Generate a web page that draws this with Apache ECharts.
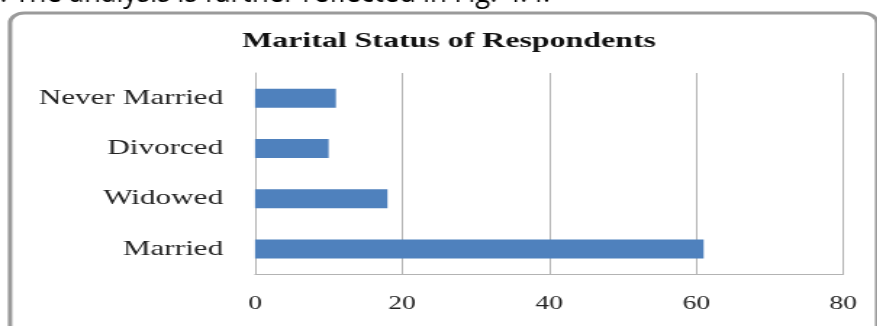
<!DOCTYPE html>
<html>
<head>
<meta charset="utf-8">
<script src="https://cdn.jsdelivr.net/npm/echarts@6/dist/echarts.min.js"></script>
<style>
html,body{margin:0;padding:0;background:#fff;overflow:hidden;}
#c{width:604.8px;height:326px;transform:scaleX(1.45);transform-origin:0 0;}
</style>
</head>
<body>
<div id="c"></div>
<script>
var SX = 1.45;
var categories = ['Married', 'Widowed', 'Divorced', 'Never Married'];
var values = [61, 18, 10, 11];
var xTicks = { min: 0, max: 80, interval: 20 };
var titleText = 'Marital Status of Respondents';
var headerText = '. The analysis is further reflected in Fig. 4.4.';

var chart = echarts.init(document.getElementById('c'));
chart.setOption({
  animation: false,
  backgroundColor: '#ffffff',
  title: {
    text: titleText,
    left: 309.7,
    top: 30.5,
    padding: 0,
    textAlign: 'center',
    textStyle: { fontFamily: 'Liberation Serif', fontWeight: 'bold', fontSize: 22, color: '#111' }
  },
  grid: { left: 175.9, right: 23.4, top: 73, bottom: 52 },
  xAxis: {
    type: 'value',
    min: xTicks.min, max: xTicks.max, interval: xTicks.interval,
    axisLine: { show: true, lineStyle: { color: '#b3b3b3', width: 1 } },
    axisTick: { show: false },
    splitLine: { show: true, lineStyle: { color: '#b3b3b3', width: 1 } },
    axisLabel: { fontFamily: 'Liberation Serif', fontSize: 19, color: '#222', margin: 21 }
  },
  yAxis: {
    type: 'category',
    data: categories,
    axisLine: { show: true, lineStyle: { color: '#b3b3b3', width: 1 } },
    axisTick: { show: false },
    axisLabel: { fontFamily: 'Liberation Serif', fontSize: 21.5, color: '#222', margin: 22 }
  },
  series: [{
    type: 'bar',
    data: values,
    barWidth: 19,
    itemStyle: { color: '#4f81bd' }
  }],
  graphic: [
    {
      type: 'rect',
      shape: { x: 6.9, y: 13, width: 598, height: 340, r: 10 },
      style: { fill: 'none', stroke: '#9a9a9a', lineWidth: 3 },
      silent: true
    },
    {
      type: 'text',
      x: 0, y: -6,
      scaleX: 1 / SX,
      style: { text: headerText, font: '27.5px "Open Sans"', fill: '#000', verticalAlign: 'middle' },
      silent: true
    }
  ]
});
</script>
</body>
</html>
